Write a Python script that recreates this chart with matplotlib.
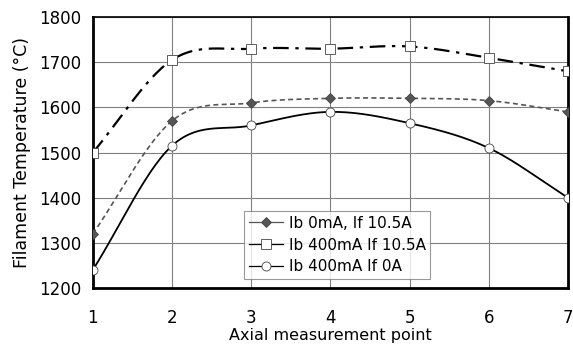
import numpy as np
import matplotlib.pyplot as plt

points = [1, 2, 3, 4, 5, 6, 7]
temp_ib0_if105 = [1320, 1570, 1610, 1620, 1620, 1615, 1590]
temp_ib400_if105 = [1500, 1705, 1730, 1730, 1735, 1710, 1680]
temp_ib400_if0 = [1240, 1515, 1560, 1590, 1565, 1510, 1400]


def smooth(xs, ys, n=30):
    # Catmull-Rom style curve through the points (like spreadsheet "smoothed line")
    xs = np.asarray(xs, float)
    ys = np.asarray(ys, float)
    px = np.concatenate([[2 * xs[0] - xs[1]], xs, [2 * xs[-1] - xs[-2]]])
    py = np.concatenate([[2 * ys[0] - ys[1]], ys, [2 * ys[-1] - ys[-2]]])
    out_x, out_y = [], []
    t = np.linspace(0, 1, n)
    for i in range(1, len(px) - 2):
        x0, x1, x2, x3 = px[i - 1:i + 3]
        y0, y1, y2, y3 = py[i - 1:i + 3]
        # bezier control points
        cx1 = x1 + (x2 - x0) / 6
        cy1 = y1 + (y2 - y0) / 6
        cx2 = x2 - (x3 - x1) / 6
        cy2 = y2 - (y3 - y1) / 6
        bx = (1 - t) ** 3 * x1 + 3 * (1 - t) ** 2 * t * cx1 + 3 * (1 - t) * t ** 2 * cx2 + t ** 3 * x2
        by = (1 - t) ** 3 * y1 + 3 * (1 - t) ** 2 * t * cy1 + 3 * (1 - t) * t ** 2 * cy2 + t ** 3 * y2
        out_x.extend(bx)
        out_y.extend(by)
    return np.array(out_x), np.array(out_y)


fig = plt.figure(figsize=(5.73, 3.49), dpi=100)
ax = fig.add_axes([0.162, 0.175, 0.829, 0.776])

series = [
    (temp_ib0_if105, 'Ib 0mA, If 10.5A', '#555555', (0, (3, 2)), 'D', '#555555', 5, 1.2),
    (temp_ib400_if105, 'Ib 400mA If 10.5A', 'black', (0, (7, 3, 1.5, 3)), 's', 'white', 6.5, 1.6),
    (temp_ib400_if0, 'Ib 400mA If 0A', 'black', '-', 'o', 'white', 6.5, 1.3),
]

for ys, label, color, ls, mk, mfc, ms, lw in series:
    sx, sy = smooth(points, ys)
    ax.plot(sx, sy, color=color, linestyle=ls, linewidth=lw, zorder=2)
    ax.plot(points, ys, linestyle='none', marker=mk, markersize=ms,
            markerfacecolor=mfc, markeredgecolor='#444444', markeredgewidth=0.6, zorder=3)
    # legend proxy
    ax.plot([], [], color=color, linestyle='-', linewidth=0.9, marker=mk, markersize=ms,
            markerfacecolor=mfc, markeredgecolor='#444444', markeredgewidth=0.6, label=label)

ax.set_xlim(1, 7)
ax.set_ylim(1200, 1800)
ax.set_xticks(points)
ax.set_yticks(range(1200, 1801, 100))
ax.grid(True, color='#808080', linewidth=0.8)
ax.tick_params(length=0, labelsize=12, pad=8)
ax.tick_params(axis='x', pad=15)
for side in ['left', 'bottom', 'right']:
    ax.spines[side].set_linewidth(2)
ax.spines['top'].set_linewidth(1.2)

ax.set_xlabel('Axial measurement point', fontsize=11.5, labelpad=1)
ax.set_ylabel('Filament Temperature (\u00b0C)', fontsize=12.5, labelpad=6)

leg = ax.legend(loc='lower left', bbox_to_anchor=(0.319, 0.033), fontsize=11,
                frameon=True, fancybox=False, handlelength=2.2, handletextpad=0.4,
                borderpad=0.3, labelspacing=0.45, borderaxespad=0)
leg.get_frame().set_edgecolor('#808080')
leg.get_frame().set_linewidth(0.8)
leg.set_zorder(5)

fig.savefig('out.png', dpi=100)
